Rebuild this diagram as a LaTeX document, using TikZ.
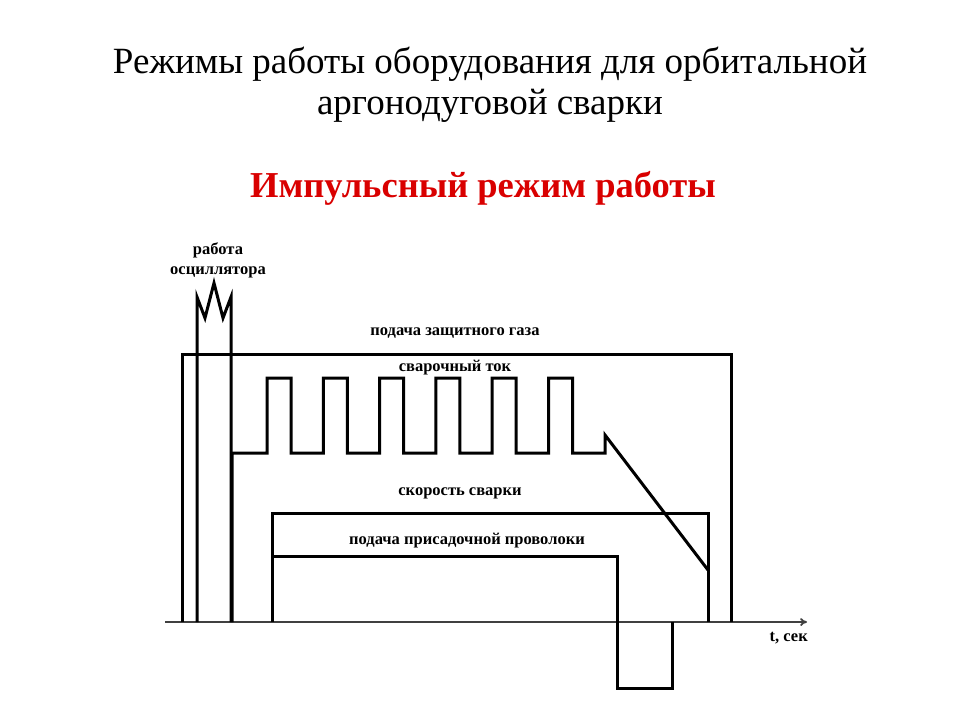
\documentclass[tikz,border=0pt]{standalone}
\usepackage{fontspec}
\setmainfont{Liberation Serif}
\usepackage{tikz}
\usetikzlibrary{arrows.meta,positioning}

\begin{document}
\begin{tikzpicture}[
  x=1pt, y=-1pt,
  signal/.style={draw, line width=3pt, line join=miter},
  axis/.style={draw, line width=1.8pt, black!75, -{To[length=7pt,width=8pt]}},
  lbl/.style={font=\fontsize{16.5}{20}\selectfont\bfseries, inner sep=1pt},
  title/.style={font=\fontsize{37}{41}\selectfont, align=center},
  subtitle/.style={font=\fontsize{36.5}{40}\selectfont\bfseries, text=red!85!black}
]
\useasboundingbox (0,0) rectangle (960,720);
\node[title] (t1) at (490,85) {Режимы работы оборудования для орбитальной\\аргонодуговой сварки};
\node[subtitle] (t2) at (483,188) {Импульсный режим работы};
% time axis
\coordinate (o) at (165,622);
\coordinate (tend) at (807,622);
\draw[axis] (o) -- (tend);
\node[lbl, below left=9pt and -2pt of tend] (tl) {t, сек};
% shielding gas
\draw[signal] (182,622) -- (182,354) -- (731,354) -- (731,622);
\node[lbl] (gas) at (455,333) {подача защитного газа};
% oscillator
\draw[signal] (197,622) -- (197,297) -- (205,318) -- (214,283) -- (223,318) -- (231,297) -- (231,622);
\node[lbl, align=center] (osc) at (218,260) {работа\\осциллятора};
% welding current
\draw[signal] (232,622) -- (232,453)
  foreach \i in {0,...,5} {
    -- ({267+56.3*\i},453) -- ({267+56.3*\i},378) -- ({291+56.3*\i},378) -- ({291+56.3*\i},453)
  } -- (605,453) -- (605,435) -- (708,570);
\node[lbl] (cur) at (455,368) {сварочный ток};
% welding speed
\draw[signal] (272,622) -- (272,513) -- (708,513) -- (708,622);
\node[lbl] (spd) at (460,493) {скорость сварки};
% filler wire
\draw[signal] (272,556) -- (617,556) -- (617,688) -- (672,688) -- (672,622);
\node[lbl] (wire) at (467,541) {подача присадочной проволоки};
\end{tikzpicture}
\end{document}
